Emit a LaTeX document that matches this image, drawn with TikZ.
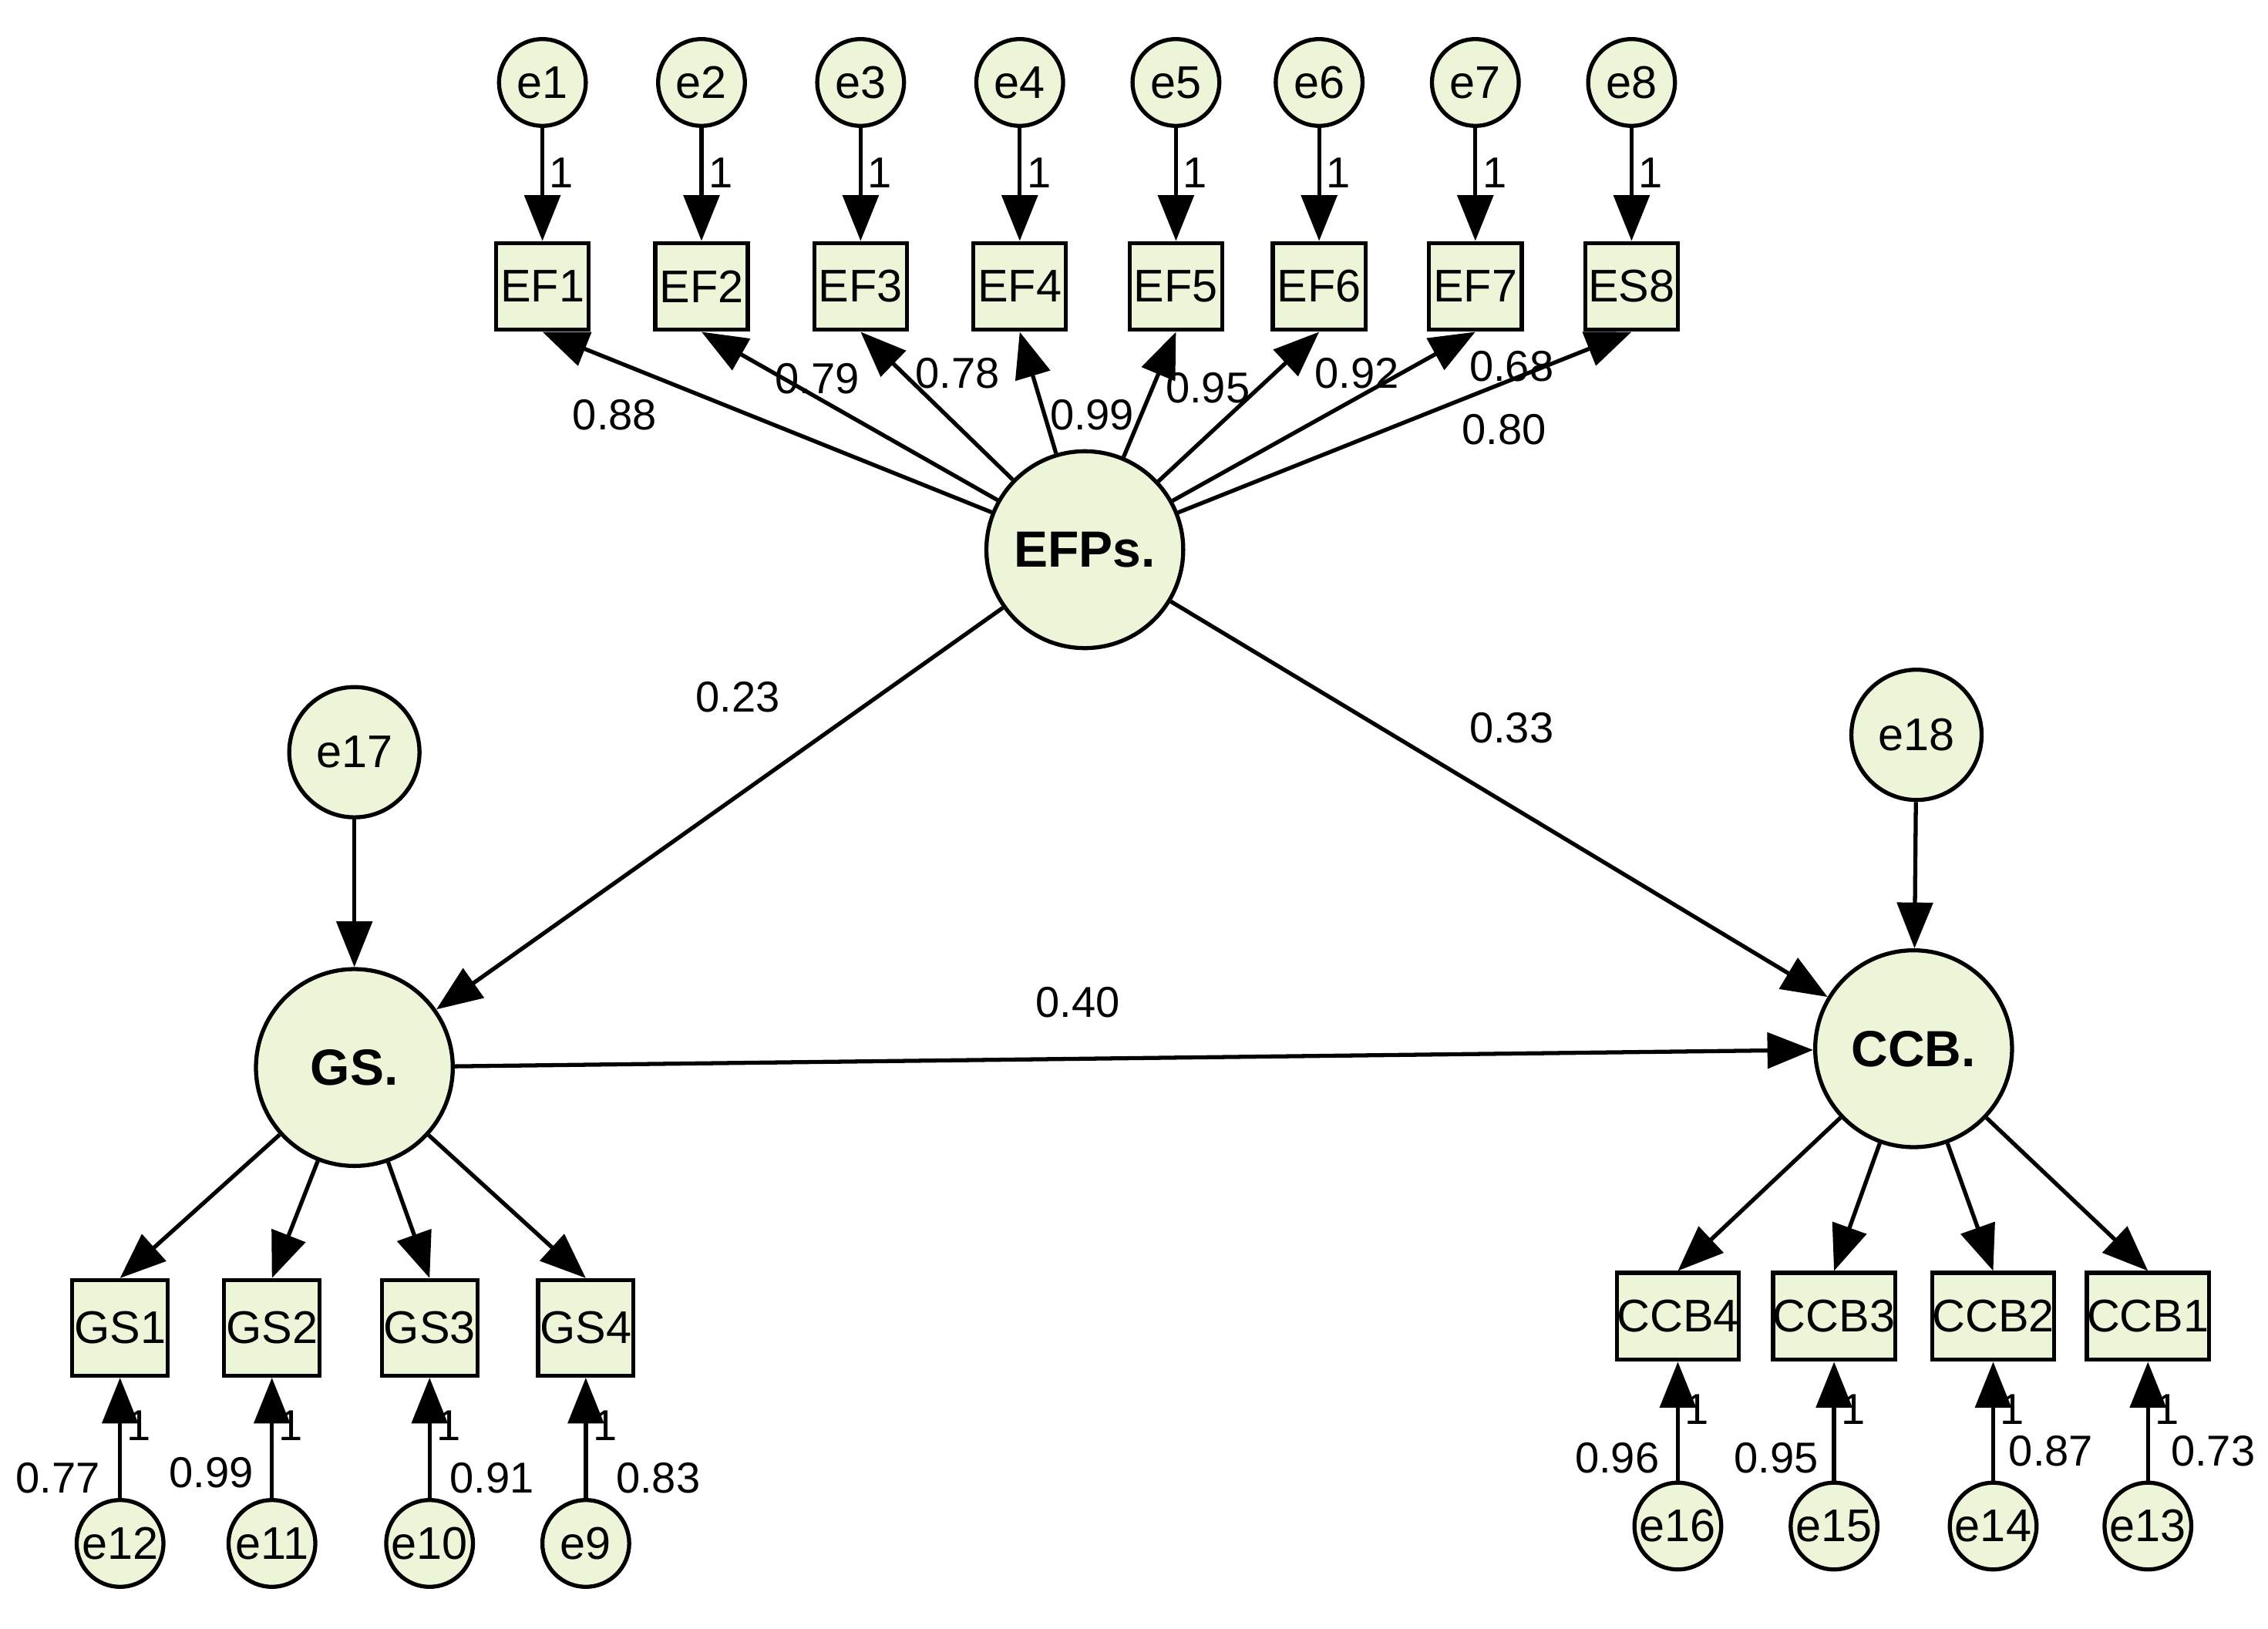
\documentclass[tikz,border=0pt]{standalone}
\usepackage{fontspec}
\setmainfont{Liberation Sans}
\usetikzlibrary{arrows.meta}
\definecolor{fillg}{RGB}{236,245,216}
\begin{document}
\begin{tikzpicture}[x=0.01cm,y=-0.01cm,
 font=\fontsize{9}{10}\selectfont,
 err/.style={circle,draw,thick,fill=fillg,minimum size=0.6cm,inner sep=0pt},
 err2/.style={circle,draw,thick,fill=fillg,minimum size=0.9cm,inner sep=0pt},
 lat/.style={circle,draw,thick,fill=fillg,minimum size=1.36cm,inner sep=0pt,font=\fontsize{10}{11}\selectfont\bfseries},
 obs/.style={draw,thick,fill=fillg,minimum width=0.64cm,minimum height=0.6cm,inner sep=0pt},
 obs2/.style={draw,thick,fill=fillg,minimum width=0.66cm,minimum height=0.66cm,inner sep=0pt},
 obs3/.style={draw,thick,fill=fillg,minimum width=0.8cm,minimum height=0.6cm,inner sep=0pt},
 arr/.style={-{Triangle[length=9pt,width=7pt]},thick},
 lab/.style={font=\fontsize{8.5}{9}\selectfont,inner sep=1pt}]
\useasboundingbox (0,0) rectangle (1568,1126);
\node[lat] (EFP) at (750,380) {EFPs.};
\node[lat] (GS) at (245,738) {GS.};
\node[lat] (CCB) at (1323,725) {CCB.};
\node[err2] (e17) at (245,520) {e17};
\node[err2] (e18) at (1325,508) {e18};
\foreach \i/\x/\n in {1/375/EF1,2/485/EF2,3/595/EF3,4/705/EF4,5/813/EF5,6/912/EF6,7/1020/EF7,8/1128/ES8}{
  \node[err] (e\i) at (\x,57) {e\i};
  \node[obs] (EF\i) at (\x,198) {\n};
  \draw[arr] (e\i) -- node[right,lab,pos=0.4]{1} (EF\i);
  \draw[arr] (EFP) -- (EF\i.south);
}
\foreach \i/\x/\e in {1/83/12,2/188/11,3/297/10,4/405/9}{
  \node[obs2] (GS\i) at (\x,918) {GS\i};
  \node[err] (e\e) at (\x,1067) {e\e};
  \draw[arr] (e\e) -- node[right,lab,pos=0.6]{1} (GS\i);
  \draw[arr] (GS) -- (GS\i.north);
}
\foreach \i/\x/\e in {4/1160/16,3/1268/15,2/1378/14,1/1485/13}{
  \node[obs3] (CCB\i) at (\x,910) {CCB\i};
  \node[err] (e\e) at (\x,1055) {e\e};
  \draw[arr] (e\e) -- node[right,lab,pos=0.6]{1} (CCB\i);
  \draw[arr] (CCB) -- (CCB\i.north);
}
\draw[arr] (e17) -- (GS);
\draw[arr] (e18) -- (CCB);
\draw[arr] (EFP) -- (GS);
\draw[arr] (EFP) -- (CCB);
\draw[arr] (GS) -- (CCB);
\foreach \t/\x/\y in {0.88/425/287,0.79/565/262,0.78/662/258,0.99/755/287,0.95/835/268,0.92/938/258,0.68/1045/253,0.80/1040/297,
 0.23/510/482,0.33/1045/503,0.40/745/693,
 0.77/40/1022,0.99/146/1018,0.91/340/1022,0.83/455/1022,
 0.96/1118/1008,0.95/1228/1008,0.87/1418/1003,0.73/1530/1003}
  \node[lab] at (\x,\y) {\t};
\end{tikzpicture}
\end{document}
